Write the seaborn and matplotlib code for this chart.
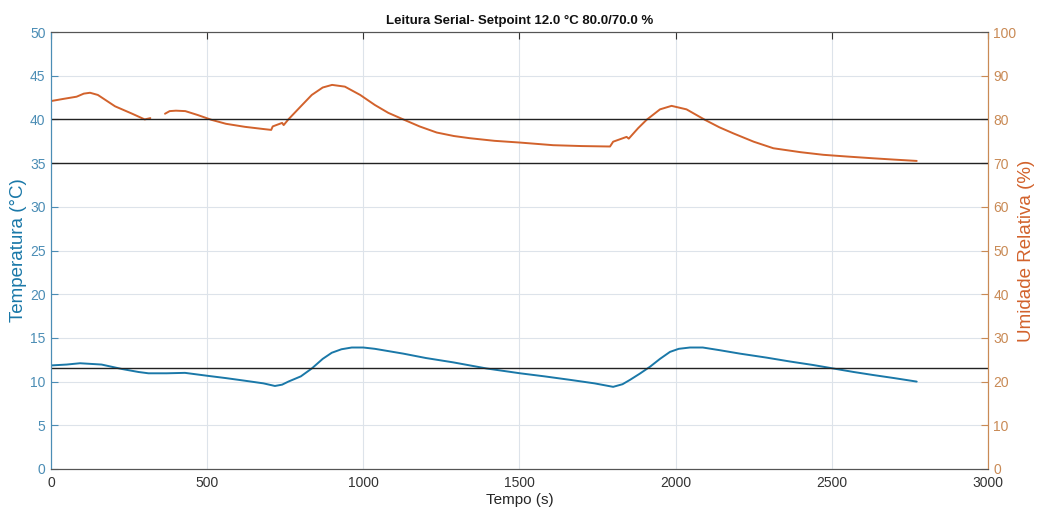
import matplotlib
matplotlib.use("Agg")
import matplotlib.pyplot as plt
import seaborn as sns
import pandas as pd

# Temperature trace (s, °C)
temp_time = [0, 50, 93, 162, 226, 280, 312, 370, 429, 504, 560, 621, 680, 717, 740,
             760, 800, 835, 870, 899, 930, 963, 1000, 1037, 1128, 1200, 1288, 1395,
             1502, 1580, 1662, 1740, 1800, 1830, 1854, 1885, 1918, 1950, 1982, 2010,
             2046, 2087, 2140, 2206, 2290, 2366, 2440, 2505, 2570, 2633, 2700, 2772]
temp_value = [11.85, 11.95, 12.1, 11.95, 11.45, 11.1, 10.95, 10.95, 11.0, 10.65, 10.4,
              10.1, 9.8, 9.5, 9.65, 10.0, 10.6, 11.5, 12.6, 13.3, 13.7, 13.9, 13.9,
              13.75, 13.2, 12.7, 12.2, 11.5, 10.95, 10.6, 10.2, 9.8, 9.4, 9.7, 10.2,
              10.9, 11.7, 12.6, 13.4, 13.75, 13.9, 13.9, 13.6, 13.2, 12.75, 12.3, 11.9,
              11.5, 11.1, 10.75, 10.4, 10.0]

# Relative humidity trace (s, %), two segments with a dropout between them
hum_time_a = [0, 40, 82, 105, 125, 150, 205, 260, 300, 318]
hum_value_a = [84.2, 84.7, 85.2, 85.9, 86.1, 85.6, 83.0, 81.3, 80.0, 80.3]
hum_time_b = [365, 380, 400, 430, 470, 514, 560, 621, 680, 705, 710, 740, 745, 760,
              800, 835, 870, 900, 941, 990, 1037, 1080, 1128, 1180, 1235, 1290, 1341,
              1420, 1502, 1608, 1700, 1790, 1800, 1843, 1850, 1880, 1907, 1950, 1987,
              2035, 2094, 2140, 2185, 2250, 2313, 2400, 2473, 2550, 2633, 2700, 2772]
hum_value_b = [81.3, 81.9, 82.0, 81.9, 81.0, 79.9, 79.0, 78.3, 77.8, 77.6, 78.4, 79.2,
               78.7, 80.0, 83.0, 85.6, 87.3, 87.9, 87.5, 85.6, 83.3, 81.5, 80.0, 78.4,
               77.0, 76.2, 75.7, 75.1, 74.7, 74.1, 73.9, 73.8, 74.9, 76.0, 75.6, 78.0,
               79.9, 82.3, 83.1, 82.3, 79.9, 78.2, 76.8, 74.9, 73.4, 72.5, 71.9, 71.5,
               71.1, 70.8, 70.5]

# Reference levels
temp_setpoint_line = 11.6
hum_limits = [80.0, 70.0]

BLUE = "#1a78a8"
ORANGE = "#d2622c"
TICK_BLUE = "#4b8db5"
TICK_ORANGE = "#c98a55"

sns.set_style("white")
plt.rcParams["font.family"] = ["Liberation Sans", "DejaVu Sans"]

temp_df = pd.DataFrame({"t": temp_time, "v": temp_value})
hum_df = pd.concat([
    pd.DataFrame({"t": hum_time_a, "v": hum_value_a, "seg": 0}),
    pd.DataFrame({"t": hum_time_b, "v": hum_value_b, "seg": 1}),
], ignore_index=True)

fig = plt.figure(figsize=(10.41, 5.09), dpi=100)
ax = fig.add_axes([0.049, 0.0786, 0.9, 0.8585])
ax2 = ax.twinx()

# grid on the temperature axis
ax.grid(True, color="#dde3ea", linewidth=0.8)
ax.set_axisbelow(True)

sns.lineplot(data=temp_df, x="t", y="v", ax=ax, color=BLUE, linewidth=1.4)
sns.lineplot(data=hum_df, x="t", y="v", units="seg", estimator=None, ax=ax2,
             color=ORANGE, linewidth=1.4)

ax.axhline(temp_setpoint_line, color="#222222", linewidth=1.0)
for lvl in hum_limits:
    ax2.axhline(lvl, color="#222222", linewidth=1.0)

ax.set_xlim(0, 3000)
ax.set_ylim(0, 50)
ax2.set_ylim(0, 100)
ax.set_xticks(range(0, 3001, 500))
ax.set_yticks(range(0, 51, 5))
ax2.set_yticks(range(0, 101, 10))

ax.tick_params(axis="x", direction="in", top=True, length=5, width=0.8,
               color="#333333", labelsize=10, labelcolor="#333333", pad=5)
ax.tick_params(axis="y", direction="in", length=5, width=0.8, color=TICK_BLUE,
               labelsize=10, labelcolor=TICK_BLUE, pad=4)
ax2.tick_params(axis="y", direction="in", length=5, width=0.8, color=TICK_ORANGE,
                labelsize=10, labelcolor=TICK_ORANGE, pad=4)

for a in (ax, ax2):
    a.spines["top"].set_color("#555555")
    a.spines["bottom"].set_color("#555555")
    a.spines["left"].set_color(TICK_BLUE)
    a.spines["right"].set_color(TICK_ORANGE)
    for s in a.spines.values():
        s.set_linewidth(0.8)

ax.set_xlabel("Tempo (s)", fontsize=11, color="#262626", labelpad=2)
ax.set_ylabel("Temperatura (°C)", fontsize=13.5, color=BLUE)
ax2.set_ylabel("Umidade Relativa (%)", fontsize=13.5, color=ORANGE)
ax.yaxis.set_label_coords(-0.026, 0.5)
ax2.yaxis.set_label_coords(1.0325, 0.5)
ax.set_title("Leitura Serial- Setpoint 12.0 °C 80.0/70.0 %", fontsize=9.5,
             fontweight="bold", color="#111111", pad=6)

fig.savefig("out.png", dpi=100)
